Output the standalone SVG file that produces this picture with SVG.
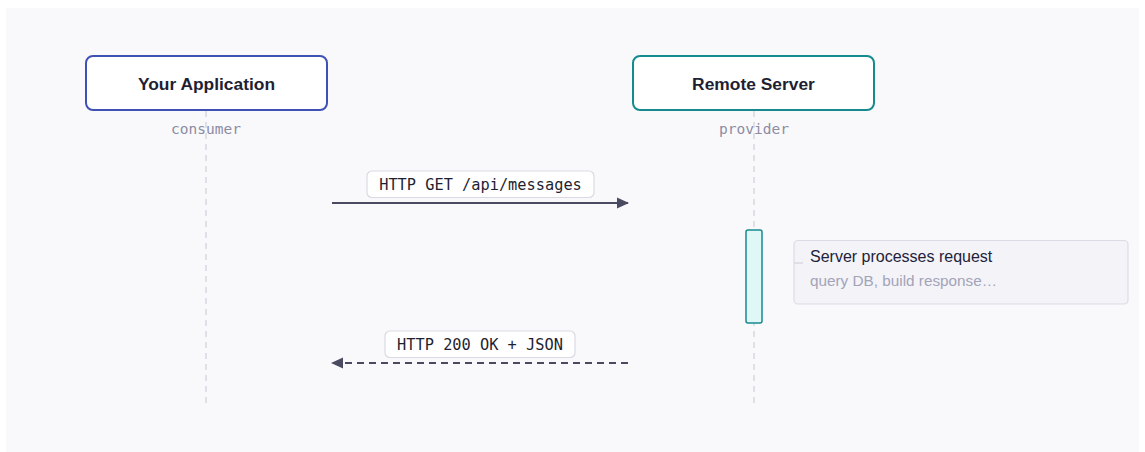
<svg xmlns="http://www.w3.org/2000/svg" width="1145" height="452" viewBox="0 0 1145 452">
  <style>
    .bg { fill: #f9f9fc; }
    .actor { fill: #ffffff; stroke-width: 2; }
    .actor-title { font-family: "Liberation Sans", Arial, sans-serif; font-size: 17.4px; font-weight: bold; fill: #1f1f33; text-anchor: middle; }
    .role { font-family: "DejaVu Sans Mono", "Liberation Mono", monospace; font-size: 14.5px; fill: #8c8ca3; text-anchor: middle; }
    .lifeline { stroke: #d6d6e0; stroke-width: 1.5; stroke-dasharray: 6 5; fill: none; }
    .msg { stroke: #4a4a60; stroke-width: 2; fill: none; }
    .msg-dashed { stroke-dasharray: 7 5; }
    .label-box { fill: #ffffff; stroke: #d9d9e3; stroke-width: 1.2; }
    .label { font-family: "DejaVu Sans Mono", "Liberation Mono", monospace; font-size: 15.3px; fill: #1f1f33; text-anchor: middle; }
    .activation { fill: #e0f7f7; stroke: #178a8e; stroke-width: 1.5; }
    .note { fill: #f3f3f8; stroke: #dcdce6; stroke-width: 1.2; }
    .note-title { font-family: "Liberation Sans", Arial, sans-serif; font-size: 16px; fill: #22223a; }
    .note-sub { font-family: "Liberation Sans", Arial, sans-serif; font-size: 15.3px; fill: #a3a3b8; }
  </style>
  <defs>
    <marker id="arrow" viewBox="0 0 12 12" refX="11" refY="6" markerWidth="12" markerHeight="12" markerUnits="userSpaceOnUse" orient="auto-start-reverse">
      <path d="M0,0.5 L12,6 L0,11.5 Z" fill="#4a4a60"/>
    </marker>
  </defs>

  <rect class="bg" x="6" y="8" width="1133" height="444"/>

  <!-- lifelines -->
  <g id="lifelines">
    <line class="lifeline" x1="206" y1="111" x2="206" y2="404"/>
    <line class="lifeline" x1="754" y1="111" x2="754" y2="404"/>
  </g>

  <g id="app">
    <rect class="actor" x="86" y="56" width="241" height="54" rx="7" stroke="#3f51b5"/>
    <text class="actor-title" x="206.5" y="89.5">Your Application</text>
    <text class="role" x="206" y="134">consumer</text>
  </g>

  <g id="server">
    <rect class="actor" x="633" y="56" width="241" height="54" rx="7" stroke="#178a8e"/>
    <text class="actor-title" x="753.5" y="89.5">Remote Server</text>
    <text class="role" x="754" y="134">provider</text>
  </g>

  <g id="activation">
    <rect class="activation" x="746" y="230" width="16" height="93" rx="2"/>
  </g>

  <g id="note">
    <rect class="note" x="794" y="240.5" width="334" height="63.5" rx="4"/>
    <line x1="794" y1="263" x2="803" y2="263" stroke="#d2d2dc" stroke-width="1.2"/>
    <text class="note-title" x="810" y="262">Server processes request</text>
    <text class="note-sub" x="810" y="286">query DB, build response…</text>
  </g>

  <g id="connectors">
    <g id="request">
      <line class="msg" x1="332" y1="203" x2="628" y2="203" marker-end="url(#arrow)"/>
      <rect class="label-box" x="367" y="171" width="227" height="26.5" rx="5"/>
      <text class="label" x="480.5" y="189.5">HTTP GET /api/messages</text>
    </g>
    <g id="response">
      <line class="msg msg-dashed" x1="628" y1="363" x2="332" y2="363" marker-end="url(#arrow)"/>
      <rect class="label-box" x="385" y="331" width="190" height="26.5" rx="5"/>
      <text class="label" x="480" y="349.5">HTTP 200 OK + JSON</text>
    </g>
  </g>
</svg>
